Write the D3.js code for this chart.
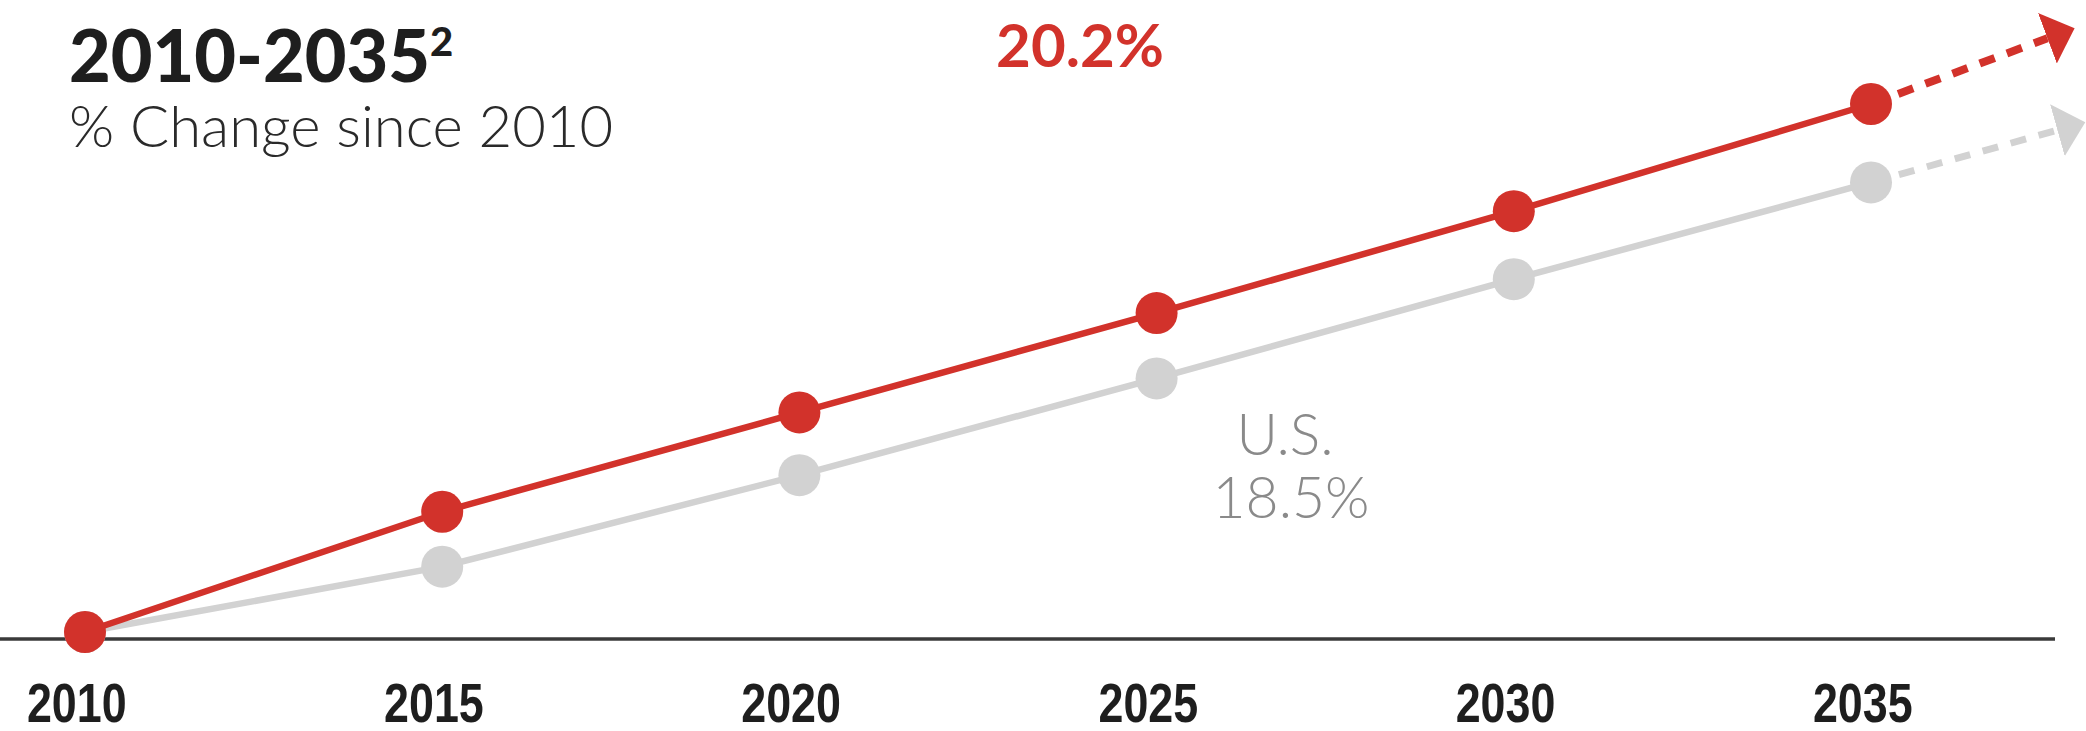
<!DOCTYPE html>
<html>
<head>
<script type="text/javascript" src="https://cdn.jsdelivr.net/npm/d3@7/dist/d3.min.js"></script>
<style>
  body { margin: 0; background: white; }
</style>
</head>
<body>
<script>

// data
var years = [2010, 2015, 2020, 2025, 2030, 2035];
var tickLabels = ["2010", "2015", "2020", "2025", "2030", "2035"];
var stateValues = [0, 4.6, 8.4, 12.2, 16.1, 20.2];
var usValues = [0, 2.5, 6.0, 9.7, 13.5, 17.2];
var projYears = [2037.85, 2038.0];
var projValues = [23.1, 19.5];

var width = 2086,
    height = 731,
    red = "#d2322b",
    grey = "#d2d2d2",
    dotR = 21;

var svg = d3.select("body")
            .append("svg")
            .attr("width", width)
            .attr("height", height)
            .style("display", "block")
            .style("background", "white");

var x = d3.scaleLinear()
          .domain([2010, 2035])
          .range([85, 1871]);
var y = d3.scaleLinear()
          .domain([0, 20.2])
          .range([632, 104]);

// baseline + year labels
svg.append("line")
   .attr("x1", 0).attr("x2", 2055)
   .attr("y1", 639).attr("y2", 639)
   .attr("stroke", "#3a3a3a")
   .attr("stroke-width", 3.5);

var xAxis = svg.append("g")
               .attr("transform", "translate(0,639)")
               .call(d3.axisBottom(x)
                       .tickValues(years)
                       .tickSize(0)
                       .tickFormat(function (d, i) { return tickLabels[i]; }));
xAxis.select(".domain").remove();
// condensed look: squeeze Liberation Sans Bold horizontally
xAxis.selectAll("text")
     .attr("y", 83)
     .attr("dy", 0)
     .attr("x", -11)
     .attr("transform", "scale(0.8,1)")
     .style("font-family", "'Liberation Sans', Arial, sans-serif")
     .style("font-weight", "bold")
     .style("font-size", "56px")
     .style("fill", "#1e1e1e");

// arrow heads
var defs = svg.append("defs");
[["arrowRed", red], ["arrowGrey", grey]].forEach(function (a) {
  defs.append("marker")
      .attr("id", a[0])
      .attr("markerUnits", "userSpaceOnUse")
      .attr("viewBox", "0 -28 30 56")
      .attr("refX", 0)
      .attr("refY", 0)
      .attr("markerWidth", 30)
      .attr("markerHeight", 56)
      .attr("orient", "auto")
      .append("path")
      .attr("d", "M0,-27L29,0L0,27Z")
      .attr("fill", a[1]);
});

var line = d3.line()
             .x(function (d) { return x(d.year); })
             .y(function (d) { return y(d.v); });

var series = [
  {name: "us", values: usValues, color: grey, proj: 1, marker: "arrowGrey", dashW: 7},
  {name: "state", values: stateValues, color: red, proj: 0, marker: "arrowRed", dashW: 8}
];

series.forEach(function (s) {
  var pts = years.map(function (yr, i) { return {year: yr, v: s.values[i]}; });
  var last = pts[pts.length - 1];

  // dashed projection, stopping at the arrow base
  var x0 = x(last.year), y0 = y(last.v),
      x1 = x(projYears[s.proj]), y1 = y(projValues[s.proj]);
  var len = Math.hypot(x1 - x0, y1 - y0);
  var ux = (x1 - x0) / len, uy = (y1 - y0) / len;
  svg.append("line")
     .attr("x1", x0).attr("y1", y0)
     .attr("x2", x1 - 29 * ux).attr("y2", y1 - 29 * uy)
     .attr("stroke", s.color)
     .attr("stroke-width", s.dashW)
     .attr("stroke-dasharray", "16,13")
     .attr("marker-end", "url(#" + s.marker + ")");

  svg.append("path")
     .datum(pts)
     .attr("d", line)
     .attr("fill", "none")
     .attr("stroke", s.color)
     .attr("stroke-width", 6.5);

  svg.selectAll("circle." + s.name)
     .data(pts)
     .enter()
     .append("circle")
     .attr("class", s.name)
     .attr("cx", function (d) { return x(d.year); })
     .attr("cy", function (d) { return y(d.v); })
     .attr("r", dotR)
     .attr("fill", s.color);
});

// titles
svg.append("text")
   .attr("x", 69).attr("y", 82)
   .style("font-family", "Lato, 'Open Sans', sans-serif")
   .style("font-weight", 900)
   .style("font-size", "72px")
   .style("fill", "#1e1e1e")
   .text("2010-2035")
   .append("tspan")
   .attr("dy", -26)
   .style("font-size", "40px")
   .text("2");

svg.append("text")
   .attr("x", 69).attr("y", 147)
   .style("font-family", "Lato, 'Open Sans', sans-serif")
   .style("font-weight", 300)
   .style("font-size", "58px")
   .style("fill", "#2a2a2a")
   .text("% Change since 2010");

svg.append("text")
   .attr("x", 1080).attr("y", 67)
   .attr("text-anchor", "middle")
   .style("font-family", "Lato, 'Open Sans', sans-serif")
   .style("font-weight", 700)
   .style("font-size", "60px")
   .style("fill", red)
   .text("20.2%");

svg.append("text")
   .attr("x", 1285).attr("y", 455)
   .attr("text-anchor", "middle")
   .style("font-family", "Lato, 'Open Sans', sans-serif")
   .style("font-weight", 300)
   .style("font-size", "57px")
   .style("fill", "#8a8a8a")
   .text("U.S.");

svg.append("text")
   .attr("x", 1291).attr("y", 518)
   .attr("text-anchor", "middle")
   .style("font-family", "Lato, 'Open Sans', sans-serif")
   .style("font-weight", 300)
   .style("font-size", "57px")
   .style("fill", "#8a8a8a")
   .text("18.5%");

</script>
</body>
</html>
